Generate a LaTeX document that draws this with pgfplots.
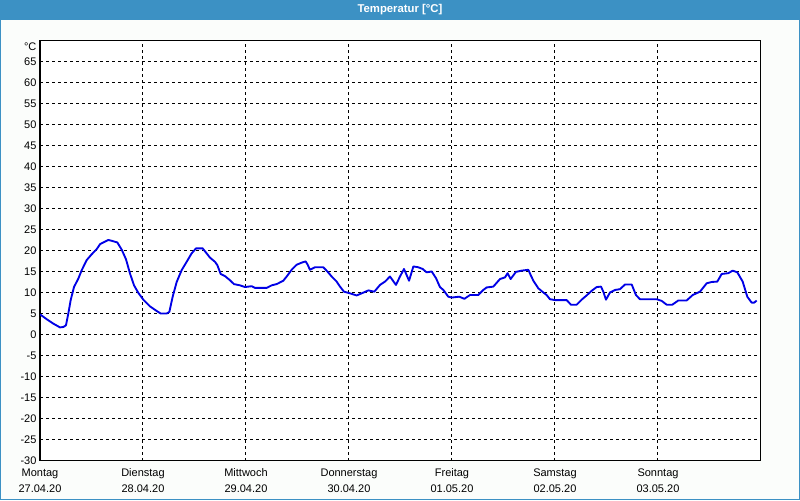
\documentclass[border=0pt]{standalone}
\usepackage{pgfplots}
\pgfplotsset{compat=1.18}
\usepackage{fontspec}
\setmainfont{Liberation Sans}
\definecolor{titleblue}{RGB}{60,145,196}
\definecolor{bgc}{RGB}{251,253,251}
\definecolor{lineblue}{RGB}{0,0,230}
\begin{document}
\begin{tikzpicture}
\fill[bgc] (0,0) rectangle (600pt,375pt);
\fill[titleblue] (0,360pt) rectangle (600pt,375pt);
\draw[titleblue, line width=0.75pt] (0.375pt,360pt) -- (0.375pt,0.375pt) -- (599.625pt,0.375pt) -- (599.625pt,360pt);
\node[text=white, font=\fontsize{8.5}{10}\selectfont\bfseries] at (300pt,367.5pt) {Temperatur [°C]};
\begin{axis}[
  at={(30pt,29.5pt)}, anchor=south west,
  scale only axis, width=540.75pt, height=315.3pt,
  xmin=0, xmax=7, ymin=-30, ymax=70,
  xtick={0,1,2,3,4,5,6},
  xticklabels={{Montag\\27.04.20},{Dienstag\\28.04.20},{Mittwoch\\29.04.20},{Donnerstag\\30.04.20},{Freitag\\01.05.20},{Samstag\\02.05.20},{Sonntag\\03.05.20}},
  ytick={-30,-25,...,65},
  /pgf/number format/assume math mode=true,
  tick label style={font=\fontsize{8.25}{12}\selectfont},
  xticklabel style={align=center, anchor=north, inner sep=0pt, yshift=-6pt},
  yticklabel style={anchor=east, inner sep=0pt, xshift=-2.5pt},
  tick style={draw=none},
  grid=major,
  major grid style={black, line width=0.75pt, dash pattern=on 2.25pt off 2.25pt},
  axis line style={black, line width=0.75pt},
  axis background/.style={fill=white},
  clip mode=individual,
]
\addplot[lineblue, line width=1.4pt, line join=round] coordinates {
(0,4.8) (0.065,3.65) (0.129,2.6) (0.194,1.7) (0.227,1.8) (0.252,2.2) (0.275,5.0) (0.298,8.2) (0.330,11.3) (0.372,13.3) (0.405,15.3) (0.453,17.7) (0.502,19.1) (0.550,20.3) (0.583,21.5) (0.631,22.1) (0.663,22.5) (0.696,22.3) (0.751,21.9) (0.793,20.2) (0.835,17.9) (0.874,14.5) (0.913,11.7) (0.955,9.9) (1.003,8.3) (1.068,6.7) (1.133,5.6) (1.172,5.0) (1.230,5.0) (1.256,5.4) (1.288,9.0) (1.327,12.5) (1.375,15.3) (1.424,17.3) (1.472,19.3) (1.515,20.5) (1.579,20.5) (1.618,19.3) (1.650,18.3) (1.699,17.3) (1.722,16.5) (1.754,14.4) (1.796,13.9) (1.845,12.9) (1.883,12.0) (1.942,11.7) (1.990,11.3) (2.055,11.5) (2.087,11.1) (2.201,11.1) (2.249,11.7) (2.298,12.0) (2.362,12.8) (2.395,13.8) (2.443,15.4) (2.492,16.6) (2.540,17.1) (2.579,17.4) (2.599,16.6) (2.621,15.4) (2.670,16.0) (2.751,16.0) (2.790,15.0) (2.832,13.8) (2.880,12.6) (2.913,11.4) (2.951,10.2) (3.010,9.8) (3.074,9.3) (3.123,9.8) (3.188,10.5) (3.246,10.2) (3.301,11.8) (3.350,12.6) (3.398,13.8) (3.456,11.8) (3.495,13.8) (3.534,15.6) (3.583,12.8) (3.625,16.2) (3.673,16.0) (3.715,15.6) (3.754,14.8) (3.803,15.0) (3.845,13.4) (3.883,11.3) (3.916,10.6) (3.964,9.0) (3.997,8.8) (4.071,9.0) (4.120,8.5) (4.175,9.4) (4.255,9.4) (4.304,10.6) (4.336,11.2) (4.401,11.4) (4.466,13.2) (4.515,13.6) (4.540,14.6) (4.569,13.2) (4.621,14.9) (4.676,15.2) (4.741,15.4) (4.763,14.2) (4.790,12.8) (4.838,11.0) (4.887,10.0) (4.919,9.4) (4.951,8.4) (5.000,8.2) (5.113,8.2) (5.155,7.1) (5.210,7.1) (5.259,8.3) (5.307,9.3) (5.356,10.4) (5.405,11.3) (5.447,11.4) (5.469,10.2) (5.495,8.3) (5.534,10.0) (5.583,10.6) (5.631,10.8) (5.680,11.9) (5.745,11.9) (5.786,9.4) (5.825,8.4) (5.987,8.4) (6.036,8.0) (6.084,7.1) (6.139,7.1) (6.197,8.1) (6.278,8.1) (6.337,9.4) (6.408,10.2) (6.473,12.2) (6.521,12.5) (6.576,12.6) (6.618,14.4) (6.683,14.6) (6.725,15.2) (6.770,14.8) (6.822,12.6) (6.867,9.0) (6.909,7.6) (6.935,7.6) (6.958,8.1)
};
\end{axis}
\node[anchor=east, inner sep=0pt, font=\fontsize{8.25}{10}\selectfont] at (27.5pt,340pt) {°C};
\end{tikzpicture}
\end{document}
